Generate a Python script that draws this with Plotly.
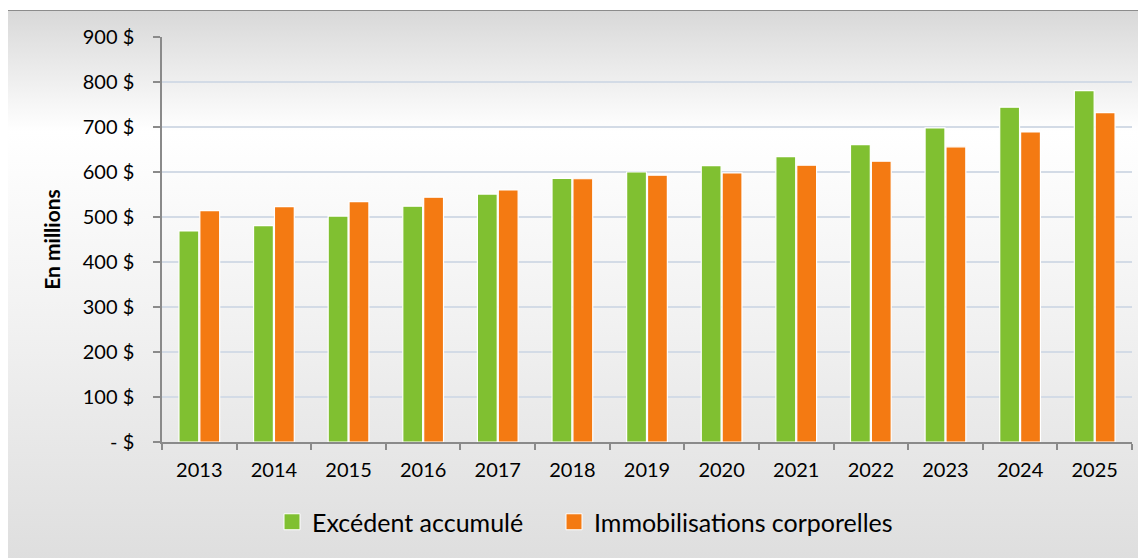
import base64
import plotly.graph_objects as go

years = ["2013", "2014", "2015", "2016", "2017", "2018", "2019",
         "2020", "2021", "2022", "2023", "2024", "2025"]
excedent = [469, 481, 502, 524, 551, 586, 600, 614, 634, 661, 698, 744, 781]
immobilisations = [514, 523, 534, 544, 560, 585, 593, 598, 615, 624, 656, 689, 732]
ytick_vals = [0, 100, 200, 300, 400, 500, 600, 700, 800, 900]
ytick_text = ["- $", "100 $", "200 $", "300 $", "400 $", "500 $", "600 $", "700 $", "800 $", "900 $"]
series_names = ["Excédent accumulé", "Immobilisations corporelles"]

GREEN = "#80C031"
ORANGE = "#F47A12"
FONT = "Lato"

svg = ('<svg xmlns="http://www.w3.org/2000/svg" width="100" height="100" preserveAspectRatio="none">'
       '<defs><linearGradient id="g" x1="0" y1="0" x2="0" y2="1">'
       '<stop offset="0" stop-color="#d8d8d8"/>'
       '<stop offset="0.22" stop-color="#ffffff"/>'
       '<stop offset="0.55" stop-color="#f2f2f2"/>'
       '<stop offset="1" stop-color="#dedede"/>'
       '</linearGradient></defs>'
       '<rect width="100" height="100" fill="url(#g)"/></svg>')
src = "data:image/svg+xml;base64," + base64.b64encode(svg.encode()).decode()

OFF = 8  # page body margin
W, H = 1146 - OFF, 558 - OFF
L, T = 162 - OFF, 37 - OFF
R = W - (1132 - OFF)
B = H - (442 - OFF)
pw, ph = W - L - R, H - T - B

def px(xs):
    return (xs - OFF - L) / pw

def py(ys):
    return (H - B - (ys - OFF)) / ph

fig = go.Figure()
fig.add_trace(go.Bar(x=years, y=excedent, name=series_names[0], showlegend=False,
                     marker=dict(color=GREEN, line=dict(color="white", width=1.2))))
fig.add_trace(go.Bar(x=years, y=immobilisations, name=series_names[1], showlegend=False,
                     marker=dict(color=ORANGE, line=dict(color="white", width=1.2))))
# legend entries (larger square swatches), one legend box each
for nm, col, lg in zip(series_names, [GREEN, ORANGE], ["legend", "legend2"]):
    fig.add_trace(go.Scatter(x=[None], y=[None], mode="markers", name=nm, legend=lg,
                             marker=dict(symbol="square", size=16, color=col,
                                         line=dict(color="white", width=1))))

legend_style = dict(orientation="h", xanchor="left", y=py(522), yanchor="middle",
                    font=dict(size=25, family=FONT), bgcolor="rgba(0,0,0,0)", itemwidth=30)

fig.update_layout(
    width=W, height=H,
    margin=dict(l=L, r=R, t=T, b=B),
    paper_bgcolor="white",
    plot_bgcolor="rgba(0,0,0,0)",
    barmode="group",
    bargap=0.44,
    bargroupgap=0.05,
    font=dict(family=FONT, color="#000000", size=20),
    showlegend=True,
    legend=dict(x=px(272), **legend_style),
    legend2=dict(x=px(554), **legend_style),
    images=[dict(source=src, xref="paper", yref="paper",
                 x=px(6), y=py(10), sizex=px(1150) - px(6), sizey=py(10) - py(562),
                 xanchor="left", yanchor="top", sizing="stretch", layer="below")],
    shapes=[dict(type="rect", xref="paper", yref="paper",
                 x0=px(6), x1=px(1152), y0=py(564), y1=py(10.5),
                 line=dict(color="#8c8c8c", width=1.2), fillcolor="rgba(0,0,0,0)", layer="below")],
)

fig.update_xaxes(
    type="category",
    showline=True, linecolor="#8a8a8a", linewidth=1.5,
    ticks="outside", tickson="boundaries", ticklen=6, tickcolor="#8a8a8a", tickwidth=1.5,
    showgrid=False, tickfont=dict(size=20, family=FONT),
    ticklabelstandoff=9,
)
fig.update_yaxes(
    range=[0, 900], tickvals=ytick_vals, ticktext=ytick_text,
    showline=True, linecolor="#8a8a8a", linewidth=1.5,
    ticks="outside", ticklen=7, tickcolor="#8a8a8a", tickwidth=1.5,
    showgrid=True, gridcolor="#d3dbe6", gridwidth=1.5,
    zeroline=False,
    tickfont=dict(size=20, family=FONT),
    ticklabelstandoff=15,
    title=dict(text="<b>En millions</b>", font=dict(size=21, family=FONT), standoff=16),
)

fig.write_html("out.html")
